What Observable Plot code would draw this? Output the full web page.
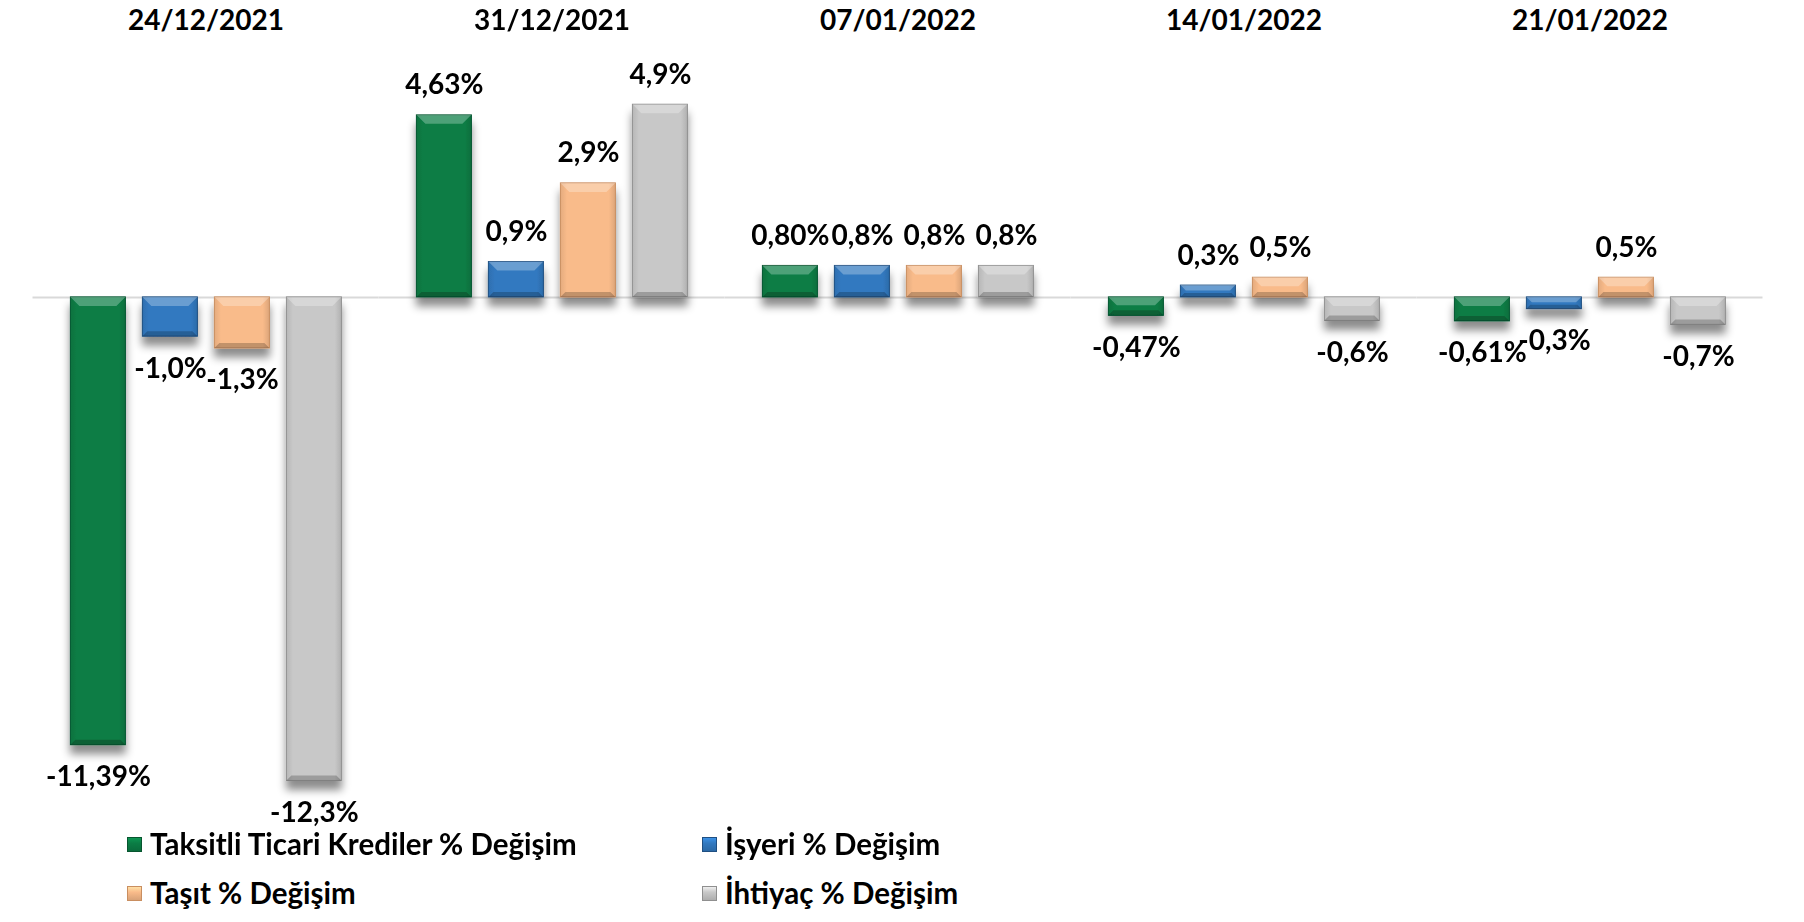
<!DOCTYPE html>
<html>
<head>
<meta charset="utf-8">
<script src="https://cdn.jsdelivr.net/npm/d3@7"></script>
<script src="https://cdn.jsdelivr.net/npm/@observablehq/plot@0.6"></script>
<style>
  html, body { margin: 0; padding: 0; background: #fff; }
  #wrap { width: 1804px; font-family: Lato, "Open Sans", sans-serif; font-weight: bold; }
  #legend { position: relative; width: 1804px; height: 90px; }
  .item { position: absolute; display: flex; align-items: center; font-size: 29.5px; line-height: 26px; height: 26px; color: #000; white-space: nowrap; }
  .sw { width: 15px; height: 15px; margin-right: 8px; box-sizing: border-box; }
</style>
</head>
<body>
<div id="wrap">
  <div id="chart"></div>
  <div id="legend"></div>
</div>
<script>
const dates = ["24/12/2021", "31/12/2021", "07/01/2022", "14/01/2022", "21/01/2022"];
const seriesNames = ["Taksitli Ticari Krediler % Değişim", "İşyeri % Değişim", "Taşıt % Değişim", "İhtiyaç % Değişim"];
const taksitli = [-11.39, 4.63, 0.80, -0.47, -0.61];
const isyeri = [-1.0, 0.9, 0.8, 0.3, -0.3];
const tasit = [-1.3, 2.9, 0.8, 0.5, 0.5];
const ihtiyac = [-12.3, 4.9, 0.8, -0.6, -0.7];
const decimals = [2, 1, 1, 1];
const baseColors = ["#0b7d45", "#3279c0", "#f9bb8a", "#c8c8c8"];
const darkColors = ["#07552f", "#1f4f82", "#c98e60", "#8f8f8f"];

const seriesValues = [taksitli, isyeri, tasit, ihtiyac];
const data = [];
dates.forEach((d, i) => {
  seriesNames.forEach((s, j) => {
    data.push({date: d, series: s, value: seriesValues[j][i], label: seriesValues[j][i].toFixed(decimals[j]).replace(".", ",") + "%", k: j});
  });
});

const fontFamily = 'Lato, "Open Sans", sans-serif';

const plot = Plot.plot({
  width: 1804,
  height: 832,
  marginTop: 61,
  marginBottom: 24,
  marginLeft: 51.6,
  marginRight: 61.4,
  style: {fontFamily, fontWeight: "bold", color: "#000", background: "#fff"},
  fx: {domain: dates, paddingInner: 0.113, paddingOuter: 0, axis: null},
  x: {domain: seriesNames, padding: 0.24, axis: null},
  y: {domain: [-13, 6], axis: null},
  color: {domain: seriesNames, range: seriesNames.map((s, j) => `url(#grad${j})`)},
  marks: [
    Plot.ruleY([0], {stroke: "#d9d9d9", strokeWidth: 2, insetLeft: -19.5, insetRight: -19.5}),
    Plot.barY(data, {fx: "date", x: "series", y: "value", fill: "series", stroke: d => darkColors[d.k], strokeWidth: 1}),
    Plot.text(data.filter(d => d.value >= 0), {fx: "date", x: "series", y: "value", text: "label", dy: -30, fontSize: 28, fontWeight: "bold", fill: "#000"}),
    Plot.text(data.filter(d => d.value < 0), {fx: "date", x: "series", y: "value", text: "label", dy: 32, fontSize: 28, fontWeight: "bold", fill: "#000"}),
    Plot.text(dates, {fx: d => d, text: d => d, frameAnchor: "top", lineAnchor: "middle", dy: -40, fontSize: 28, fontWeight: "bold", fill: "#000"})
  ]
});

document.getElementById("chart").appendChild(plot);

// defs: gradients + shadow
const svg = d3.select(plot);
const defs = svg.insert("defs", ":first-child");
baseColors.forEach((c, j) => {
  const g = defs.append("linearGradient").attr("id", `grad${j}`).attr("x1", 0).attr("x2", 1).attr("y1", 0).attr("y2", 0);
  const col = d3.color(c);
  g.append("stop").attr("offset", "0%").attr("stop-color", col.darker(0.25));
  g.append("stop").attr("offset", "12%").attr("stop-color", c);
  g.append("stop").attr("offset", "88%").attr("stop-color", c);
  g.append("stop").attr("offset", "100%").attr("stop-color", col.darker(0.35));
});
const f = defs.append("filter").attr("id", "shadow").attr("x", "-20%").attr("y", "-20%").attr("width", "140%").attr("height", "140%");
f.append("feDropShadow").attr("dx", 0).attr("dy", 9).attr("stdDeviation", 4).attr("flood-color", "#000").attr("flood-opacity", 0.45);

const barGroup = svg.select('g[aria-label="bar"]');
barGroup.attr("filter", "url(#shadow)");
barGroup.selectAll("rect").each(function() {
  const r = d3.select(this);
  const x = +r.attr("x"), y = +r.attr("y"), w = +r.attr("width"), h = +r.attr("height");
  const b = Math.min(9, h / 2.2, w / 3);
  const p = d3.select(this.parentNode);
  p.append("path")
    .attr("d", `M${x},${y}L${x + w},${y}L${x + w - b},${y + b}L${x + b},${y + b}Z`)
    .attr("fill", "#fff").attr("fill-opacity", 0.28);
  const bb = Math.min(5, h / 3);
  p.append("path")
    .attr("d", `M${x},${y + h}L${x + w},${y + h}L${x + w - bb},${y + h - bb}L${x + bb},${y + h - bb}Z`)
    .attr("fill", "#000").attr("fill-opacity", 0.22);
});

// legend
const legend = d3.select("#legend");
const pos = [[127, 12], [702, 12], [127, 61], [702, 61]];
seriesNames.forEach((s, j) => {
  const it = legend.append("div").attr("class", "item")
    .style("left", pos[j][0] + "px").style("top", (pos[j][1] - 13) + "px");
  it.append("div").attr("class", "sw")
    .style("background", `linear-gradient(180deg, ${d3.color(baseColors[j]).brighter(0.5)} 0%, ${baseColors[j]} 40%, ${d3.color(baseColors[j]).darker(0.4)} 100%)`)
    .style("border", `1px solid ${darkColors[j]}`);
  it.append("span").text(s);
});
</script>
</body>
</html>
